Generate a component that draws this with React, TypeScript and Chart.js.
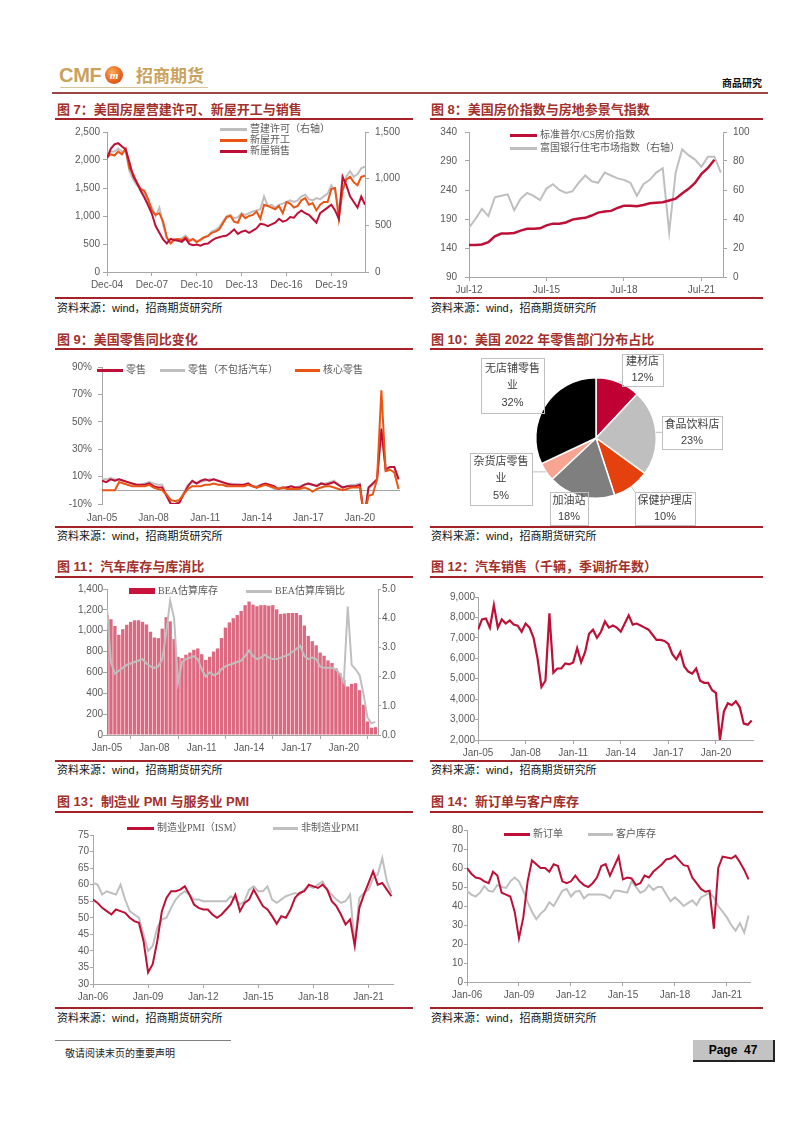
import React, { useEffect, useRef } from "react";
import { Chart, registerables } from "chart.js";

Chart.register(...registerables);

/* ============================ DATA ============================ */

// Fig 7 – quarterly, from Dec-04
const fig7Start = "Dec-04";
const fig7End = "Mar-22";
const fig7Ticks = ["Dec-04", "Dec-07", "Dec-10", "Dec-13", "Dec-16", "Dec-19"];
const fig7Permits = [
  1230, 1290, 1290, 1320, 1290, 1290, 1080, 990, 930, 900,
  840, 750, 690, 600, 690, 510, 360, 312, 336, 348,
  360, 390, 348, 348, 336, 336, 372, 390, 432, 450,
  480, 540, 600, 612, 576, 588, 630, 612, 630, 648,
  660, 672, 810, 708, 720, 690, 720, 732, 750, 768,
  750, 768, 810, 828, 780, 768, 792, 780, 810, 840,
  930, 870, 660, 900, 1020, 1080, 1020, 1050, 1110, 1128,
];
const fig7Starts = [
  2050, 2100, 2080, 2150, 2100, 2200, 1850, 1750, 1600, 1480,
  1450, 1300, 1100, 1020, 1050, 900, 620, 510, 580, 590,
  570, 620, 550, 590, 530, 580, 620, 640, 700, 720,
  760, 870, 980, 1000, 900, 880, 1030, 960, 1000, 1020,
  1080, 950, 1200, 1180, 1150, 1120, 1180, 1050, 1250, 1220,
  1150, 1180, 1280, 1320, 1200, 1230, 1100, 1200, 1250, 1250,
  1480, 1500, 950, 1450, 1650, 1700, 1600, 1550, 1700, 1720,
];
const fig7Sales = [
  2030, 2200, 2280, 2300, 2240, 2190, 1960, 1710, 1590, 1450,
  1330, 1190, 1040, 820, 700, 580, 510, 590, 570, 560,
  540, 600, 500, 480, 490, 470, 500, 510, 560, 600,
  620, 640, 650, 700, 760, 680, 720, 740, 700, 740,
  780, 860, 850, 820, 850, 880, 950, 900, 920, 980,
  970, 1050, 1100, 1050, 1020, 950, 880, 1050, 1100, 1150,
  1200, 1100, 950, 1700, 1550, 1350, 1250, 1150, 1350, 1200,
];

// Fig 8 – quarterly, from Jul-12
const fig8Start = "Jul-12";
const fig8End = "May-22";
const fig8Ticks = ["Jul-12", "Jul-15", "Jul-18", "Jul-21"];
const fig8CaseShiller = [
  145, 145, 146, 150, 160, 165, 165, 166, 170, 173,
  173, 174, 179, 182, 182, 184, 189, 191, 192, 196,
  201, 203, 204, 209, 213, 213, 212, 214, 217, 218,
  219, 222, 225, 234, 242, 252, 268, 278, 292,
];
const fig8NAHB = [
  34, 40, 47, 42, 55, 56, 57, 46, 54, 58,
  56, 53, 61, 64, 60, 58, 59, 65, 70, 66,
  65, 72, 70, 68, 67, 65, 56, 64, 67, 72,
  75, 31, 72, 88, 84, 81, 76, 83, 83, 72,
];

// Fig 9 – quarterly, from Jan-05 (YoY %)
const fig9Start = "Jan-05";
const fig9End = "May-22";
const fig9Ticks = ["Jan-05", "Jan-08", "Jan-11", "Jan-14", "Jan-17", "Jan-20"];
const fig9Retail = [
  7, 6, 8, 7, 8, 7, 6, 5, 4, 4,
  4, 5, 3, 2, 2, -4, -10, -10, -9, -3,
  3, 7, 5, 7, 8, 7, 8, 7, 6, 5,
  4, 4, 4, 4, 5, 3, 2, 4, 5, 4,
  3, 1, 2, 2, 3, 2, 2, 4, 5, 4,
  3, 5, 4, 5, 6, 4, 2, 3, 3, 3,
  4, -20, 2, 5, 8, 45, 15, 17, 17, 8,
];
const fig9ExAuto = [
  8, 8, 9, 8, 8, 7, 6, 5, 4, 4,
  5, 6, 5, 4, 4, -3, -9, -10, -8, -2,
  4, 6, 5, 6, 7, 8, 8, 7, 6, 4,
  5, 4, 4, 3, 4, 3, 3, 4, 4, 3,
  1, 1, 1, 2, 3, 2, 3, 4, 5, 4,
  4, 5, 5, 6, 7, 4, 2, 3, 4, 4,
  5, -20, 1, 4, 8, 40, 16, 17, 17, 9,
];
const fig9Core = [
  0, 0, 0, 0, 6, 5, 4, 3, 3, 3,
  3, 4, 2, 1, 0, -3, -7, -8, -7, -3,
  1, 3, 3, 3, 4, 4, 5, 4, 4, 3,
  3, 3, 3, 3, 4, 3, 2, 3, 4, 3,
  2, 1, 2, 1, 1, 1, 1, 2, 1, -1,
  1, 2, 3, 3, 2, 1, 0, 1, 2, 2,
  2, -20, -4, -3, 8, 73, 14, 15, 13, 1,
];

// Fig 10 – 2022 retail shares (%)
const fig10Names = ["建材店", "食品饮料店", "保健护理店", "加油站", "杂货店零售业", "无店铺零售业"];
const fig10Shares = [12, 23, 10, 18, 5, 32];

// Fig 11 – quarterly, from Jan-05
const fig11Start = "Jan-05";
const fig11End = "Mar-22";
const fig11Ticks = ["Jan-05", "Jan-08", "Jan-11", "Jan-14", "Jan-17", "Jan-20"];
const fig11Inventory = [
  1153, 1110, 1045, 961, 1015, 1057, 1085, 1100, 1100, 1085,
  1060, 990, 935, 929, 1020, 1130, 1090, 920, 750, 737,
  770, 790, 817, 830, 775, 720, 750, 800, 830, 930,
  1030, 1080, 1120, 1150, 1190, 1245, 1280, 1250, 1235, 1245,
  1245, 1240, 1245, 1205, 1160, 1165, 1170, 1170, 1170, 1150,
  1050, 950, 900, 860, 790, 760, 715, 690, 640, 595,
  530, 465, 490, 497, 430, 290, 130, 70, 75,
];
const fig11Ratio = [
  4.3, 2.5, 2.1, 2.2, 2.3, 2.4, 2.45, 2.5, 2.55, 2.6,
  2.45, 2.35, 2.3, 2.35, 2.6, 3.5, 4.6, 4.0, 1.8, 2.5,
  2.6, 2.65, 2.7, 2.6, 2.25, 2.0, 2.15, 2.05, 2.1, 2.25,
  2.35, 2.4, 2.45, 2.5, 2.55, 2.7, 2.9, 2.7, 2.6, 2.65,
  2.75, 2.65, 2.6, 2.6, 2.65, 2.7, 2.75, 2.85, 2.95, 3.05,
  2.7, 2.6, 2.65, 2.6, 2.35, 2.3, 2.3, 2.3, 2.25, 2.1,
  1.8, 4.4, 2.4, 2.25, 2.05, 1.4, 0.6, 0.4, 0.45,
];

// Fig 12 – quarterly, from Jan-05
const fig12Start = "Jan-05";
const fig12End = "May-22";
const fig12Ticks = ["Jan-05", "Jan-08", "Jan-11", "Jan-14", "Jan-17", "Jan-20"];
const fig12Sales = [
  7400, 7900, 7950, 7500, 8600, 7500, 7900, 7700, 7850, 7650,
  7600, 7300, 7700, 7500, 7000, 6000, 4600, 4900, 8200, 5300,
  5500, 5500, 5750, 5700, 5800, 6500, 5800, 6300, 7200, 7400,
  7000, 7300, 7800, 7500, 7600, 7500, 7300, 7700, 8100, 7650,
  7700, 7600, 7500, 7400, 7150, 6900, 6900, 6850, 6700, 6200,
  5950, 6300, 5600, 5350, 5250, 5500, 4900, 4800, 4800, 4450,
  4300, 2000, 3400, 3800, 3700, 3900, 3600, 2800, 2750, 2950,
];

// Fig 13 – quarterly, from Jan-06
const fig13Start = "Jan-06";
const fig13End = "May-22";
const fig13Ticks = ["Jan-06", "Jan-09", "Jan-12", "Jan-15", "Jan-18", "Jan-21"];
const fig13Mfg = [
  55.5, 54.5, 53, 52, 51, 52.5, 52, 51.5, 50, 49,
  48.5, 43, 33.5, 36, 43, 52, 56, 58, 58, 58.5,
  59.5, 57, 54, 53, 52.5, 52.5, 51, 50, 51, 52.5,
  54, 57, 52, 54.5, 55.5, 58.5, 56, 53.5, 52.5, 50.5,
  48.2, 50.5, 50, 52.5, 56, 57.5, 58, 60, 59.5, 59,
  60, 58.5, 55, 53.5, 51, 48, 49.5, 41.5, 53, 57,
  60.5, 64, 60, 60.5, 58.5, 56.5,
];
const fig13NonMfg = [
  60.5, 60, 57, 58, 57.5, 57, 60, 55.5, 52, 51,
  50, 45, 40, 41.5, 47, 49.5, 50, 53, 55.5, 57,
  58, 57, 55.5, 55.5, 55, 55, 55, 55, 55, 55,
  56.5, 55.5, 54, 55, 58.5, 59.5, 58, 58, 59.5, 55.5,
  54.5, 55.5, 56.5, 57, 57.5, 57, 58.5, 59.5, 59, 60,
  61, 58.5, 57, 55.5, 54.5, 55, 57, 42, 56, 57.5,
  58.5, 62, 63, 68, 61, 57.5,
];

// Fig 14 – quarterly, from Jan-06
const fig14Start = "Jan-06";
const fig14End = "May-22";
const fig14Ticks = ["Jan-06", "Jan-09", "Jan-12", "Jan-15", "Jan-18", "Jan-21"];
const fig14NewOrders = [
  60, 57, 55, 54.5, 53, 52, 58, 56, 47, 46,
  45, 37, 23, 34, 53, 64, 62, 60, 60, 58,
  62, 61, 53, 52, 53, 56, 53, 51, 50, 52,
  55, 61, 62, 56, 61, 66, 54, 55, 54.5, 51,
  52, 56, 55, 58, 60, 62, 64.5, 65, 66.5, 64,
  61.5, 61, 55, 52, 49, 47.5, 48, 28, 60, 66,
  65.5, 65, 66.5, 63, 59, 54,
];
const fig14CustInv = [
  48, 46, 45, 47, 50.5, 48, 47.5, 51, 50, 49.5,
  53, 55, 53, 48, 42, 37, 33, 36, 38, 42,
  40, 44, 48, 49, 45, 47.5, 48, 44, 46, 46,
  46, 46, 45.5, 44, 48, 48, 47.5, 47, 53, 50,
  47, 48, 51, 48.5, 50, 50, 46, 42.5, 44.5, 42.5,
  40, 41.5, 43, 40.5, 44.5, 45.7, 47, 44.5, 40, 37,
  34, 30, 27, 31, 26, 35,
];

/* ============================ STYLE ============================ */

const CRIMSON = "#BE1037";
const ORANGE = "#EA5514";
const GRAY = "#BFBFBF";
const AXIS = "#A6A6A6";
const TICK = "#595959";
const TITLE = "#A3302B";
const RULE = "#A52228";
const BAR = "#DD6981";
const SANS = '"Liberation Sans", Arial, "Noto Sans CJK SC", sans-serif';
const LEGEND_FONT = '"Liberation Serif", "Noto Sans CJK SC", serif';
const TICK_FONT = { family: '"Liberation Sans", Arial, sans-serif', size: 10 };
const PIE_COLORS = ["#C00032", "#BFBFBF", "#E5410E", "#7F7F7F", "#F7A592", "#000000"];

/* ============================ HELPERS ============================ */

const MONTHS = ["Jan", "Feb", "Mar", "Apr", "May", "Jun", "Jul", "Aug", "Sep", "Oct", "Nov", "Dec"];
function parseMonth(label: string) {
  const [mon, yy] = label.split("-");
  return (2000 + Number(yy)) * 12 + MONTHS.indexOf(mon);
}
function monthLabel(v: number) {
  const y = Math.floor(v / 12);
  const m = Math.round(v - y * 12);
  return `${MONTHS[m]}-${String(y % 100).padStart(2, "0")}`;
}
function quarterly(start: string, values: number[]) {
  const s = parseMonth(start);
  return values.map((v, i) => ({ x: s + 3 * i, y: v }));
}

type Plot = { L: number; T: number; R: number; B: number };
type Box = { left: number; top: number; width: number; height: number; padTop: number; padRight: number };

function makeBox(plot: Plot, leftW: number, rightW: number, xH = 24): Box {
  const padTop = 10;
  const padRight = rightW ? 0 : 10;
  const left = plot.L - leftW;
  const top = plot.T - padTop;
  return { left, top, width: plot.R + rightW + padRight - left, height: plot.B + xH - top, padTop, padRight };
}

function yScale(o: any, width: number, position: string) {
  return {
    type: "linear",
    position,
    min: o.min,
    max: o.max,
    ticks: {
      stepSize: o.step,
      color: TICK,
      font: TICK_FONT,
      padding: o.pad,
      autoSkip: false,
      callback: o.fmt || ((v: any) => Number(v).toLocaleString("en-US")),
    },
    grid: { display: true, drawOnChartArea: false, drawTicks: true, tickLength: o.tickLen, color: AXIS },
    border: { display: true, color: AXIS },
    afterFit: (s: any) => {
      s.width = width;
    },
  };
}

function xScale(o: any, xH: number) {
  const vals = o.ticks.map(parseMonth);
  return {
    type: "linear",
    min: parseMonth(o.min),
    max: parseMonth(o.max),
    offset: false,
    afterBuildTicks: (s: any) => {
      s.ticks = vals.map((v: number) => ({ value: v }));
    },
    ticks: {
      color: TICK,
      font: TICK_FONT,
      padding: o.pad,
      autoSkip: false,
      maxRotation: 0,
      minRotation: 0,
      callback: (v: any) => monthLabel(Number(v)),
    },
    grid: { display: o.tickLen > 0, drawOnChartArea: false, drawTicks: o.tickLen > 0, tickLength: o.tickLen, color: AXIS },
    border: { display: o.border !== false, color: AXIS },
    afterFit: (s: any) => {
      s.height = xH;
    },
  };
}

function lineDs(label: string, data: any[], color: string, yAxisID = "y", width = 2, order = 0) {
  return {
    type: "line",
    label,
    data,
    borderColor: color,
    backgroundColor: color,
    borderWidth: width,
    pointRadius: 0,
    tension: 0,
    fill: false,
    yAxisID,
    order,
  };
}

const zeroLinePlugin = {
  id: "zeroLine",
  beforeDatasetsDraw(chart: any) {
    const { ctx, chartArea } = chart;
    const y = Math.round(chart.scales.y.getPixelForValue(0)) + 0.5;
    ctx.save();
    ctx.strokeStyle = AXIS;
    ctx.lineWidth = 1;
    ctx.beginPath();
    ctx.moveTo(chartArea.left, y);
    ctx.lineTo(chartArea.right, y);
    ctx.stroke();
    ctx.restore();
  },
};

function timeChart(spec: any) {
  const xH = 24;
  const box = makeBox(spec.plot, spec.leftW, spec.rightW || 0, xH);
  const scales: any = {
    x: xScale(spec.x, xH),
    y: yScale(spec.y, spec.leftW, "left"),
  };
  if (spec.y2) scales.y2 = yScale(spec.y2, spec.rightW, "right");
  const config = {
    type: spec.type || "line",
    data: { datasets: spec.datasets },
    options: {
      responsive: false,
      animation: false,
      events: [],
      layout: { padding: { top: box.padTop, right: box.padRight, left: 0, bottom: 0 } },
      plugins: { legend: { display: false }, tooltip: { enabled: false } },
      scales,
    },
    plugins: spec.plugins || [],
  };
  return { box, config };
}

/* ============================ CHART SPECS ============================ */

const fig7Spec = () =>
  timeChart({
    plot: { L: 107, T: 130, R: 365, B: 272 },
    leftW: 50,
    rightW: 40,
    x: { min: fig7Start, max: fig7End, ticks: fig7Ticks, tickLen: 4, pad: 3 },
    y: { min: 0, max: 2500, step: 500, tickLen: 4, pad: 3 },
    y2: { min: 0, max: 1500, step: 500, tickLen: 4, pad: 6 },
    datasets: [
      lineDs("新屋销售", quarterly(fig7Start, fig7Sales), CRIMSON),
      lineDs("新屋开工", quarterly(fig7Start, fig7Starts), ORANGE),
      lineDs("营建许可（右轴）", quarterly(fig7Start, fig7Permits), GRAY, "y2"),
    ],
  });

const fig8Spec = () =>
  timeChart({
    plot: { L: 469, T: 128, R: 723, B: 277 },
    leftW: 50,
    rightW: 40,
    x: { min: fig8Start, max: fig8End, ticks: fig8Ticks, tickLen: 4, pad: 3 },
    y: { min: 90, max: 340, step: 50, tickLen: 4, pad: 8 },
    y2: { min: 0, max: 100, step: 20, tickLen: 4, pad: 6 },
    datasets: [
      lineDs("标准普尔/CS房价指数", quarterly(fig8Start, fig8CaseShiller), CRIMSON, "y", 2.5),
      lineDs("富国银行住宅市场指数（右轴）", quarterly(fig8Start, fig8NAHB), GRAY, "y2"),
    ],
  });

const fig9Spec = () =>
  timeChart({
    plot: { L: 102, T: 365, R: 400, B: 504 },
    leftW: 50,
    x: { min: fig9Start, max: fig9End, ticks: fig9Ticks, tickLen: 0, pad: 8, border: false },
    y: { min: -10, max: 90, step: 20, tickLen: 4, pad: 6, fmt: (v: any) => `${v}%` },
    datasets: [
      lineDs("核心零售", quarterly(fig9Start, fig9Core), ORANGE),
      lineDs("零售", quarterly(fig9Start, fig9Retail), CRIMSON),
      lineDs("零售（不包括汽车）", quarterly(fig9Start, fig9ExAuto), GRAY),
    ],
    plugins: [zeroLinePlugin],
  });

const fig11Spec = () =>
  timeChart({
    type: "bar",
    plot: { L: 107, T: 589, R: 378, B: 735 },
    leftW: 50,
    rightW: 40,
    x: { min: fig11Start, max: fig11End, ticks: fig11Ticks, tickLen: 4, pad: 3 },
    y: { min: 0, max: 1400, step: 200, tickLen: 4, pad: 0 },
    y2: { min: 0, max: 5, step: 1, tickLen: 3, pad: 1, fmt: (v: any) => Number(v).toFixed(1) },
    datasets: [
      lineDs("BEA估算库销比", quarterly(fig11Start, fig11Ratio), GRAY, "y2", 2, 0),
      {
        type: "bar",
        label: "BEA估算库存",
        data: quarterly(fig11Start, fig11Inventory),
        backgroundColor: BAR,
        borderWidth: 0,
        barPercentage: 0.85,
        categoryPercentage: 1,
        yAxisID: "y",
        order: 1,
      },
    ],
  });

const fig12Spec = () =>
  timeChart({
    plot: { L: 478, T: 597, R: 753, B: 740 },
    leftW: 50,
    x: { min: fig12Start, max: fig12End, ticks: fig12Ticks, tickLen: 4, pad: 3 },
    y: { min: 2000, max: 9000, step: 1000, tickLen: 3, pad: 0 },
    datasets: [lineDs("汽车销售", quarterly(fig12Start, fig12Sales), CRIMSON, "y", 2.2)],
  });

const fig13Spec = () =>
  timeChart({
    plot: { L: 93, T: 835, R: 393, B: 984 },
    leftW: 40,
    x: { min: fig13Start, max: fig13End, ticks: fig13Ticks, tickLen: 4, pad: 3 },
    y: { min: 30, max: 75, step: 5, tickLen: 3, pad: 1 },
    datasets: [
      lineDs("制造业PMI（ISM）", quarterly(fig13Start, fig13Mfg), CRIMSON),
      lineDs("非制造业PMI", quarterly(fig13Start, fig13NonMfg), GRAY),
    ],
  });

const fig14Spec = () =>
  timeChart({
    plot: { L: 467, T: 830, R: 750, B: 982 },
    leftW: 40,
    x: { min: fig14Start, max: fig14End, ticks: fig14Ticks, tickLen: 4, pad: 3 },
    y: { min: 0, max: 80, step: 10, tickLen: 3, pad: 1 },
    datasets: [
      lineDs("新订单", quarterly(fig14Start, fig14NewOrders), CRIMSON),
      lineDs("客户库存", quarterly(fig14Start, fig14CustInv), GRAY),
    ],
  });

// Pie label boxes: offsets from pie centre, sizes, wrap length (layout only)
const PIE_BOXES = [
  { dx: 46, dy: -68, w: 41, h: 32, wrap: 3 },
  { dx: 96, dy: -6, w: 60, h: 33, wrap: 5 },
  { dx: 69, dy: 70, w: 60, h: 33, wrap: 5 },
  { dx: -27, dy: 70, w: 38, h: 33, wrap: 3 },
  { dx: -95, dy: 41, w: 62, h: 52, wrap: 5 },
  { dx: -84, dy: -53, w: 63, h: 55, wrap: 5 },
];

const pieLabelPlugin = {
  id: "pieLabels",
  afterDatasetsDraw(chart: any) {
    const ctx = chart.ctx;
    const meta = chart.getDatasetMeta(0);
    const values = chart.data.datasets[0].data;
    const names = chart.data.labels;
    meta.data.forEach((arc: any, i: number) => {
      const p = arc.getProps(["x", "y", "startAngle", "endAngle", "outerRadius"], true);
      const mid = (p.startAngle + p.endAngle) / 2;
      const ax = p.x + Math.cos(mid) * p.outerRadius;
      const ay = p.y + Math.sin(mid) * p.outerRadius;
      const b = PIE_BOXES[i];
      const x0 = Math.round(p.x + b.dx - b.w / 2);
      const y0 = Math.round(p.y + b.dy - b.h / 2);
      const cx = Math.min(Math.max(ax, x0), x0 + b.w);
      const cy = Math.min(Math.max(ay, y0), y0 + b.h);
      ctx.save();
      ctx.strokeStyle = "#BFBFBF";
      ctx.lineWidth = 1;
      if (Math.hypot(cx - ax, cy - ay) > 1.5) {
        ctx.beginPath();
        ctx.moveTo(ax, ay);
        ctx.lineTo(cx, cy);
        ctx.stroke();
      }
      ctx.strokeRect(x0 + 0.5, y0 + 0.5, b.w, b.h);
      const name: string = names[i];
      const lines: string[] = [];
      for (let k = 0; k < name.length; k += b.wrap) lines.push(name.slice(k, k + b.wrap));
      lines.push(`${values[i]}%`);
      ctx.font = '11px "Liberation Sans", Arial, "Noto Sans CJK SC"';
      ctx.fillStyle = "#404040";
      ctx.textAlign = "center";
      ctx.textBaseline = "middle";
      const lh = lines.length > 2 ? 17 : 16;
      const cyMid = y0 + b.h / 2;
      lines.forEach((t, k) => {
        ctx.fillText(t, x0 + b.w / 2, cyMid + (k - (lines.length - 1) / 2) * lh);
      });
      ctx.restore();
    });
  },
};

const fig10Spec = () => {
  const box: Box = { left: 455, top: 345, width: 300, height: 185, padTop: 32, padRight: 98 };
  const config = {
    type: "pie",
    data: {
      labels: fig10Names,
      datasets: [
        {
          data: fig10Shares,
          backgroundColor: PIE_COLORS,
          borderColor: "#FFFFFF",
          borderWidth: 1.5,
        },
      ],
    },
    options: {
      responsive: false,
      animation: false,
      events: [],
      layout: { padding: { left: 80, right: 98, top: 32, bottom: 31 } },
      plugins: { legend: { display: false }, tooltip: { enabled: false } },
    },
    plugins: [pieLabelPlugin],
  };
  return { box, config };
};

/* ============================ COMPONENTS ============================ */

function ChartCanvas({ spec }: { spec: () => { box: Box; config: any } }) {
  const ref = useRef<HTMLCanvasElement | null>(null);
  const { box } = spec();
  useEffect(() => {
    const { config } = spec();
    const chart = new Chart(ref.current as HTMLCanvasElement, config as any);
    return () => chart.destroy();
  }, [spec]);
  return (
    <canvas
      ref={ref}
      width={box.width}
      height={box.height}
      style={{ position: "absolute", left: box.left, top: box.top, width: box.width, height: box.height, display: "block" }}
    />
  );
}

const PANELS = [
  { x0: 55, x1: 413, tx: 57, titleY: 110, ruleY: 118, srcRuleY: 297, srcY: 308, title: "图 7：美国房屋营建许可、新屋开工与销售" },
  { x0: 430, x1: 763, tx: 431, titleY: 110, ruleY: 118, srcRuleY: 297, srcY: 308, title: "图 8：美国房价指数与房地参景气指数" },
  { x0: 55, x1: 413, tx: 57, titleY: 340, ruleY: 348, srcRuleY: 526, srcY: 536, title: "图 9：美国零售同比变化" },
  { x0: 430, x1: 763, tx: 431, titleY: 340, ruleY: 348, srcRuleY: 526, srcY: 536, title: "图 10：美国 2022 年零售部门分布占比" },
  { x0: 55, x1: 413, tx: 57, titleY: 567, ruleY: 576, srcRuleY: 760, srcY: 770, title: "图 11：汽车库存与库消比" },
  { x0: 430, x1: 763, tx: 431, titleY: 567, ruleY: 576, srcRuleY: 760, srcY: 770, title: "图 12：汽车销售（千辆，季调折年数）" },
  { x0: 55, x1: 413, tx: 57, titleY: 802, ruleY: 811, srcRuleY: 1007, srcY: 1018, title: "图 13：制造业 PMI 与服务业 PMI" },
  { x0: 430, x1: 763, tx: 431, titleY: 802, ruleY: 811, srcRuleY: 1007, srcY: 1018, title: "图 14：新订单与客户库存" },
];

const SOURCE = "资料来源：wind，招商期货研究所";

const LEGENDS = [
  { x: 220, y: 129, len: 27, color: GRAY, label: "营建许可（右轴）" },
  { x: 220, y: 140, len: 27, color: ORANGE, label: "新屋开工" },
  { x: 220, y: 151, len: 27, color: CRIMSON, label: "新屋销售" },
  { x: 510, y: 135, len: 27, color: CRIMSON, label: "标准普尔/CS房价指数" },
  { x: 510, y: 148, len: 27, color: GRAY, label: "富国银行住宅市场指数（右轴）" },
  { x: 97, y: 370, len: 26, color: CRIMSON, label: "零售" },
  { x: 160, y: 370, len: 25, color: GRAY, label: "零售（不包括汽车）" },
  { x: 295, y: 370, len: 25, color: ORANGE, label: "核心零售" },
  { x: 129, y: 591, len: 26, color: "#C8143C", label: "BEA估算库存", bar: true },
  { x: 246, y: 591, len: 26, color: GRAY, label: "BEA估算库销比" },
  { x: 127, y: 828, len: 27, color: CRIMSON, label: "制造业PMI（ISM）" },
  { x: 273, y: 828, len: 25, color: GRAY, label: "非制造业PMI" },
  { x: 504, y: 834, len: 26, color: CRIMSON, label: "新订单" },
  { x: 588, y: 834, len: 25, color: GRAY, label: "客户库存" },
];

function abs(left: number, top: number, extra: React.CSSProperties = {}): React.CSSProperties {
  return { position: "absolute", left, top, whiteSpace: "nowrap", ...extra };
}

export default function App() {
  return (
    <div style={{ position: "absolute", left: 0, top: 0, width: 802, height: 1133, background: "#fff", overflow: "hidden", fontFamily: SANS }}>
      {/* header */}
      <div style={abs(59, 64, { fontFamily: '"Liberation Sans", Arial', fontWeight: 700, fontSize: 20, lineHeight: "22px", color: "#C9A35E", letterSpacing: -0.3 })}>CMF</div>
      <div
        style={abs(105, 66, {
          width: 18,
          height: 18,
          borderRadius: "50%",
          background: "radial-gradient(circle at 40% 35%, #F9B058 0%, #E8661E 55%, #C73A14 100%)",
          color: "#fff",
          fontSize: 11,
          fontWeight: 700,
          fontStyle: "italic",
          lineHeight: "18px",
          textAlign: "center",
          fontFamily: '"Liberation Serif", serif',
        })}
      >
        m
      </div>
      <div style={abs(136, 64, { fontSize: 17, lineHeight: "22px", color: "#C9A35E", fontWeight: 700, fontFamily: '"Noto Sans CJK SC"' })}>招商期货</div>
      <div style={abs(60, 87, { width: 148, height: 1, background: "#D8C49A" })} />
      <div style={abs(722, 77, { fontSize: 10, lineHeight: "12px", fontWeight: 700, color: "#111", fontFamily: '"Noto Sans CJK SC"' })}>商品研究</div>
      <div style={abs(52, 92, { width: 716, height: 2, background: "#9B4744" })} />

      {/* panel decorations */}
      {PANELS.map((p, i) => (
        <React.Fragment key={i}>
          <div style={abs(p.tx, p.titleY - 8, { fontSize: 13, lineHeight: "16px", fontWeight: 700, color: TITLE })}>{p.title}</div>
          <div style={abs(p.x0, p.ruleY, { width: p.x1 - p.x0, height: 2, background: RULE })} />
          <div style={abs(p.x0, p.srcRuleY, { width: p.x1 - p.x0, height: 2, background: RULE })} />
          <div style={abs(p.tx, p.srcY - 7, { fontSize: 11, lineHeight: "14px", color: "#111" })}>{SOURCE}</div>
        </React.Fragment>
      ))}

      {/* charts */}
      <ChartCanvas spec={fig7Spec} />
      <ChartCanvas spec={fig8Spec} />
      <ChartCanvas spec={fig9Spec} />
      <ChartCanvas spec={fig10Spec} />
      <ChartCanvas spec={fig11Spec} />
      <ChartCanvas spec={fig12Spec} />
      <ChartCanvas spec={fig13Spec} />
      <ChartCanvas spec={fig14Spec} />

      {/* legends */}
      {LEGENDS.map((l, i) => (
        <React.Fragment key={`lg${i}`}>
          <div style={abs(l.x, l.y - (l.bar ? 3 : 1), { width: l.len, height: l.bar ? 6 : 2.5, background: l.color })} />
          <div style={abs(l.x + l.len + 3, l.y - 7, { fontSize: 10, lineHeight: "14px", color: TICK, fontFamily: LEGEND_FONT })}>{l.label}</div>
        </React.Fragment>
      ))}

      {/* footer */}
      <div style={abs(55, 1040, { width: 176, height: 1, background: "#808080" })} />
      <div style={abs(65, 1046, { fontSize: 10, lineHeight: "14px", color: "#222", fontFamily: '"Noto Sans CJK SC"' })}>敬请阅读末页的重要声明</div>
      <div
        style={abs(693, 1040, {
          width: 82,
          height: 22,
          background: "#C3C3C3",
          borderRight: "2px solid #222",
          borderBottom: "2px solid #222",
          boxSizing: "border-box",
          fontSize: 12,
          fontWeight: 700,
          lineHeight: "21px",
          textAlign: "center",
          color: "#000",
          fontFamily: '"Liberation Sans", Arial',
        })}
      >
        Page&nbsp;&nbsp;47
      </div>
    </div>
  );
}
